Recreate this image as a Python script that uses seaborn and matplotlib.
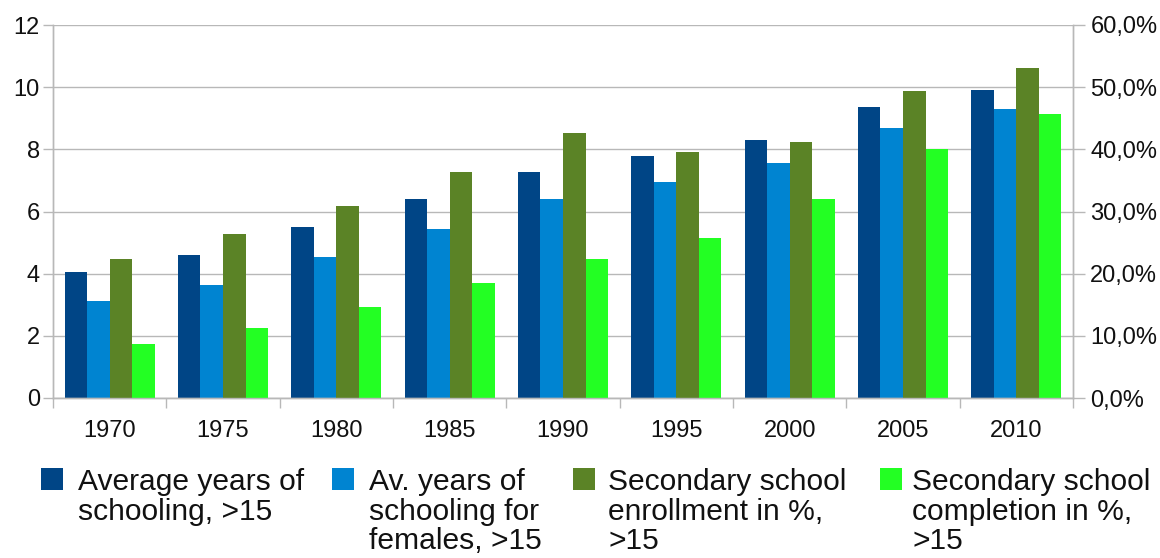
import numpy as np
import pandas as pd
import matplotlib
matplotlib.use("Agg")
import matplotlib.pyplot as plt
from matplotlib.patches import Rectangle
import seaborn as sns

# ---- data -------------------------------------------------------------
years = ["1970", "1975", "1980", "1985", "1990", "1995", "2000", "2005", "2010"]
avg_years = [4.05, 4.60, 5.50, 6.40, 7.27, 7.79, 8.30, 9.36, 9.91]
avg_years_female = [3.12, 3.64, 4.54, 5.44, 6.40, 6.95, 7.56, 8.69, 9.30]
enrollment_pct = [22.4, 26.4, 30.9, 36.4, 42.6, 39.6, 41.2, 49.4, 53.1]
completion_pct = [8.7, 11.3, 14.6, 18.5, 22.4, 25.7, 32.0, 40.1, 45.7]

series_names = [
    "Average years of\nschooling, >15",
    "Av. years of\nschooling for\nfemales, >15",
    "Secondary school\nenrollment in %,\n>15",
    "Secondary school\ncompletion in %,\n>15",
]
colors = ["#004586", "#0084d1", "#5b8326", "#23ff23"]
palette = dict(zip(series_names, colors))

left_ticks = [0, 2, 4, 6, 8, 10, 12]
right_ticks = [0, 10, 20, 30, 40, 50, 60]

# long-form tables: years-of-schooling on the left axis, percentages on the right
df_left = pd.DataFrame({
    "year": years * 2,
    "series": [series_names[0]] * 9 + [series_names[1]] * 9,
    "value": avg_years + avg_years_female,
})
df_right = pd.DataFrame({
    "year": years * 2,
    "series": [series_names[2]] * 9 + [series_names[3]] * 9,
    "value": enrollment_pct + completion_pct,
})

# ---- figure -----------------------------------------------------------
sns.set_style("white")
plt.rcParams["font.family"] = ["Liberation Sans", "DejaVu Sans"]

W, H = 1160, 558
fig = plt.figure(figsize=(W / 100, H / 100), dpi=100)

ax_l, ax_r, ax_t, ax_b = 53, 1073, 25, 398
ax = fig.add_axes([ax_l / W, 1 - ax_b / H, (ax_r - ax_l) / W, (ax_b - ax_t) / H])
ax2 = ax.twinx()

grid_c = "#b8b8b8"
bar_width = 0.795
tick_fs = 17

sns.barplot(data=df_left, x="year", y="value", hue="series", order=years,
            hue_order=series_names, palette=palette, width=bar_width,
            saturation=1, errorbar=None, legend=False, ax=ax, zorder=2)
sns.barplot(data=df_right, x="year", y="value", hue="series", order=years,
            hue_order=series_names, palette=palette, width=bar_width,
            saturation=1, errorbar=None, legend=False, ax=ax2, zorder=2)

for a in (ax, ax2):
    for p in a.patches:
        p.set_linewidth(0)

ax.set_ylim(0, 12)
ax2.set_ylim(0, 60)
ax.set_xlim(-0.5, len(years) - 0.5)

ax.set_yticks(left_ticks)
ax.set_yticklabels([str(v) for v in left_ticks])
ax2.set_yticks(right_ticks)
ax2.set_yticklabels([f"{v:.1f}%".replace(".", ",") for v in right_ticks])

# category boundaries as major ticks, year labels centred on minor ticks
ax.set_xticks(np.arange(-0.5, len(years), 1.0))
ax.set_xticklabels([])
ax.set_xticks(np.arange(len(years)), minor=True)
ax.set_xticklabels(years, minor=True)

ax.set_xlabel("")
ax.set_ylabel("")
ax2.set_ylabel("")

ax.yaxis.grid(True, color=grid_c, linewidth=1.0, zorder=0)
ax.set_axisbelow(True)
ax.xaxis.grid(False)
ax2.grid(False)

ax.tick_params(axis="y", which="major", left=True, length=7.2, width=1.0,
               color=grid_c, pad=2.2, labelsize=tick_fs, labelcolor="#111111")
ax2.tick_params(axis="y", which="major", right=True, length=8.5, width=1.0,
                color=grid_c, pad=4.0, labelsize=tick_fs, labelcolor="#111111")
ax.tick_params(axis="x", which="major", bottom=True, length=7.2, width=1.0,
               color=grid_c)
ax.tick_params(axis="x", which="minor", bottom=True, length=0, pad=15.5,
               labelsize=tick_fs, labelcolor="#111111")

for a in (ax, ax2):
    for side in ("top", "bottom", "left", "right"):
        a.spines[side].set_visible(True)
        a.spines[side].set_color(grid_c)
        a.spines[side].set_linewidth(1.0)
    a.spines["top"].set_visible(False)

# ---- legend below the plot ----------------------------------------------
sq_x = [41, 332, 573, 880]
txt_x = [78, 369, 608, 912]
sq_top, sq_size = 468, 22
for name, c, sx, tx in zip(series_names, colors, sq_x, txt_x):
    fig.add_artist(Rectangle((sx / W, 1 - (sq_top + sq_size) / H),
                             sq_size / W, sq_size / H,
                             transform=fig.transFigure, facecolor=c,
                             edgecolor="none"))
    fig.text(tx / W, 1 - 468.0 / H, name, fontsize=21.6, color="#111111",
             ha="left", va="top", linespacing=1.07)

fig.savefig("out.png", dpi=100)
